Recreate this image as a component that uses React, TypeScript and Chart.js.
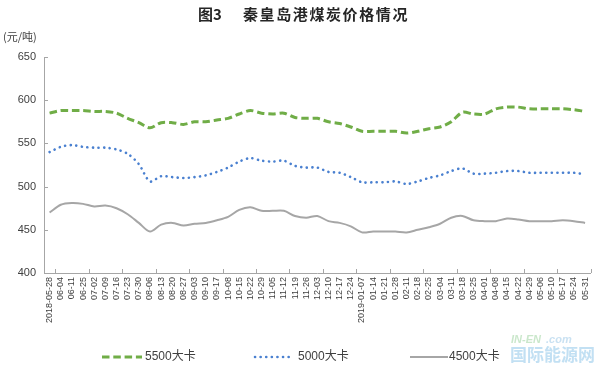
import React, { useEffect, useRef } from "react";
import { Chart, registerables } from "chart.js";

Chart.register(...registerables);

const TITLE_FIG = "图3";
const TITLE_TEXT = "秦皇岛港煤炭价格情况";
const UNIT = "(元/吨)";

const categories: string[] = [
  "2018-05-28", "06-04", "06-11", "06-25", "07-02", "07-09", "07-16", "07-23", "07-30",
  "08-06", "08-13", "08-20", "08-27", "09-03", "09-10", "09-17", "10-08", "10-15", "10-22",
  "10-29", "11-05", "11-12", "11-19", "11-26", "12-03", "12-10", "12-17", "12-24",
  "2019-01-07", "01-14", "01-21", "01-28", "02-11", "02-18", "02-25", "03-04", "03-11",
  "03-18", "03-25", "04-01", "04-08", "04-15", "04-22", "04-29", "05-06", "05-10", "05-17",
  "05-24", "05-31",
];

const s5500: number[] = [
  585, 588, 588, 588, 587, 587, 585, 579, 574, 568, 574, 574, 572, 575, 575, 577, 579, 584,
  588, 585, 584, 585, 580, 579, 579, 575, 573, 569, 564, 564, 564, 564, 562, 564, 567, 569,
  575, 586, 584, 584, 590, 592, 592, 590, 590, 590, 590, 589, 587,
];

const s5000: number[] = [
  540, 546, 548, 546, 545, 545, 543, 538, 526, 506, 512, 511, 510, 511, 513, 517, 522, 529,
  533, 530, 529, 530, 524, 522, 522, 517, 516, 511, 505, 505, 505, 506, 503, 506, 510, 513,
  518, 521, 515, 515, 516, 518, 518, 516, 516, 516, 516, 516, 514,
];

const s4500: number[] = [
  470, 479, 481, 480, 477, 478, 475, 468, 458, 448, 456, 458, 455, 457, 458, 461, 465, 473,
  476, 472, 472, 472, 466, 464, 466, 460, 458, 454, 447, 448, 448, 448, 447, 450, 453, 457,
  464, 466, 461, 460, 460, 463, 462, 460, 460, 460, 461, 460, 458,
];

const seriesNames = ["5500大卡", "5000大卡", "4500大卡"];
const yTicks = { min: 400, max: 650, step: 50 };

const GREEN = "#70ad47";
const BLUE = "#4a80d0";
const GRAY = "#a6a6a6";
const AXIS = "#a6a6a6";
const TEXT = "#404040";
const FONT = "'Liberation Sans', 'Noto Sans CJK SC', sans-serif";
const CJK = "'Noto Sans CJK SC', sans-serif";

const legendLayout = [
  { lineX: 102, lineW: 40, textX: 145 },
  { lineX: 255, lineW: 38, textX: 298 },
  { lineX: 410, lineW: 38, textX: 449 },
];

const decor = {
  id: "decor",
  afterDraw(chart: any) {
    const ctx: CanvasRenderingContext2D = chart.ctx;
    const { left, right, top, bottom } = chart.chartArea;
    const xs = chart.scales.x;
    const ys = chart.scales.y;
    ctx.save();
    // inner tick marks
    ctx.strokeStyle = AXIS;
    ctx.lineWidth = 1;
    ctx.beginPath();
    for (const t of ys.ticks) {
      const py = Math.round(ys.getPixelForValue(t.value)) + 0.5;
      ctx.moveTo(left, py);
      ctx.lineTo(left + 4, py);
    }
    const n = categories.length;
    const step = xs.getPixelForValue(1) - xs.getPixelForValue(0);
    for (let k = 1; k <= n; k += 3) {
      const px = Math.round(xs.getPixelForValue(k) - step / 2) + 0.5;
      ctx.moveTo(px, bottom);
      ctx.lineTo(px, bottom - 4);
    }
    ctx.stroke();

    // title
    ctx.fillStyle = "#262626";
    ctx.textBaseline = "middle";
    ctx.textAlign = "left";
    ctx.font = `bold 15px ${CJK}`;
    ctx.fillText(TITLE_FIG, 198, 14);
    (ctx as any).letterSpacing = "1.6px";
    ctx.fillText(TITLE_TEXT, 243, 14);
    (ctx as any).letterSpacing = "0px";

    // unit
    ctx.fillStyle = TEXT;
    ctx.font = `11px ${CJK}`;
    ctx.fillText(UNIT, 3, 37);

    // legend
    const ly = 357;
    chart.data.datasets.forEach((ds: any, i: number) => {
      const L = legendLayout[i];
      ctx.save();
      ctx.strokeStyle = ds.borderColor;
      ctx.lineWidth = ds.borderWidth;
      ctx.lineCap = ds.borderCapStyle || "butt";
      ctx.setLineDash(ds.borderDash || []);
      ctx.beginPath();
      ctx.moveTo(L.lineX, ly);
      ctx.lineTo(L.lineX + L.lineW, ly);
      ctx.stroke();
      ctx.restore();
      ctx.fillStyle = TEXT;
      ctx.font = `12px ${FONT}`;
      ctx.textBaseline = "middle";
      ctx.fillText(ds.label, L.textX, ly);
    });

    // watermark
    ctx.globalAlpha = 0.55;
    ctx.font = `italic bold 11px ${FONT}`;
    ctx.fillStyle = "#9fd3a0";
    ctx.fillText("IN-EN", 511, 340);
    ctx.fillStyle = "#9cc9e8";
    ctx.fillText(".com", 546, 340);
    ctx.font = `bold 17px ${CJK}`;
    ctx.fillStyle = "#8fc6ea";
    ctx.fillText("国际能源网", 510, 355);
    ctx.restore();
  },
};

export default function App() {
  const ref = useRef<HTMLCanvasElement | null>(null);
  useEffect(() => {
    document.body.style.margin = "0";
    if (!ref.current) return;
    const chart = new Chart(ref.current, {
      type: "line",
      data: {
        labels: categories,
        datasets: [
          {
            label: seriesNames[0],
            data: s5500,
            borderColor: GREEN,
            borderWidth: 3,
            borderDash: [7.5, 3.8],
            pointRadius: 0,
            tension: 0.3,
          },
          {
            label: seriesNames[1],
            data: s5000,
            borderColor: BLUE,
            borderWidth: 2.6,
            borderDash: [0.1, 5.5],
            borderCapStyle: "round",
            pointRadius: 0,
            tension: 0.3,
          },
          {
            label: seriesNames[2],
            data: s4500,
            borderColor: GRAY,
            borderWidth: 2,
            pointRadius: 0,
            tension: 0.3,
          },
        ],
      },
      options: {
        animation: false,
        responsive: false,
        maintainAspectRatio: false,
        layout: { padding: { top: 57, left: 0, right: 9, bottom: 0 } },
        plugins: {
          legend: { display: false },
          title: { display: false },
          tooltip: { enabled: false },
        },
        scales: {
          x: {
            offset: true,
            grid: { display: true, drawOnChartArea: false, drawTicks: false, color: AXIS },
            border: { display: true, color: AXIS, width: 1 },
            ticks: {
              autoSkip: false,
              maxRotation: 90,
              minRotation: 90,
              padding: 4,
              color: TEXT,
              font: { size: 9, family: FONT },
            },
            afterFit: (s: any) => {
              s.height = 93;
            },
          },
          y: {
            min: yTicks.min,
            max: yTicks.max,
            grid: { display: true, drawOnChartArea: false, drawTicks: false, color: AXIS },
            border: { display: true, color: AXIS, width: 1 },
            ticks: {
              stepSize: yTicks.step,
              padding: 8,
              color: TEXT,
              font: { size: 11, family: FONT },
            },
            afterFit: (s: any) => {
              s.width = 44;
            },
          },
        },
      },
      plugins: [decor],
    });
    return () => chart.destroy();
  }, []);
  return (
    <div style={{ width: 600, height: 366 }}>
      <canvas ref={ref} width={600} height={366} style={{ display: "block" }} />
    </div>
  );
}
